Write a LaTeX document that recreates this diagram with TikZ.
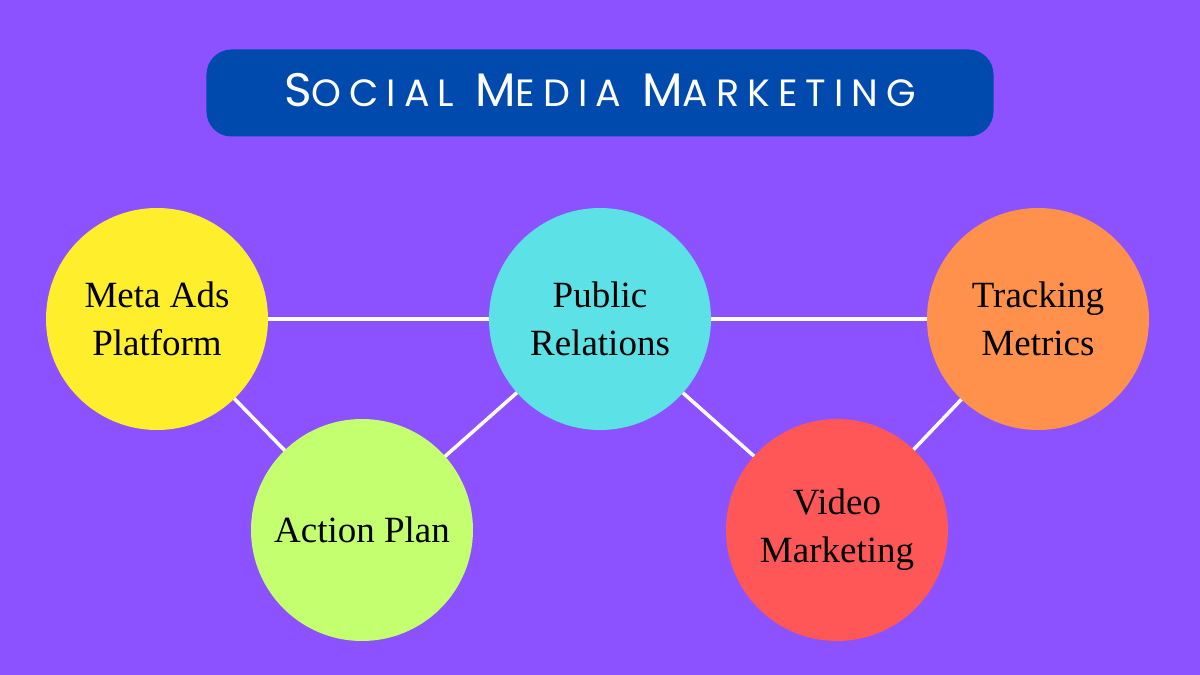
\documentclass[tikz,border=0pt]{standalone}
\usepackage{fontspec}
\setmainfont{Liberation Serif}
\newfontfamily\titlefont[LetterSpace=21]{Poppins}
\definecolor{bgpurple}{HTML}{8C52FF}
\definecolor{titleblue}{HTML}{004AAD}
\definecolor{cyellow}{HTML}{FFEE2B}
\definecolor{cgreen}{HTML}{C3FF6F}
\definecolor{ccyan}{HTML}{5CE1E6}
\definecolor{cred}{HTML}{FF5757}
\definecolor{corange}{HTML}{FF914D}

\begin{document}
\begin{tikzpicture}[x=1bp,y=-1bp,
    topic/.style={circle,minimum size=222bp,inner sep=0pt,align=center,
        font=\fontsize{37bp}{48bp}\selectfont},
    link/.style={draw=white,line width=3.5bp}]
    \fill[bgpurple] (0,0) rectangle (1200,675);
    \useasboundingbox (0,0) rectangle (1200,675);

    \node(title) [fill=titleblue,rounded corners=25bp,minimum width=787bp,minimum height=87bp,
        text=white] at (600,93) {};
    \node(titletext) [text=white] at (600,90) {\titlefont
        \fontsize{47bp}{47bp}\selectfont S\fontsize{38bp}{38bp}\selectfont OCIAL\hspace{3bp}
        \fontsize{47bp}{47bp}\selectfont M\fontsize{38bp}{38bp}\selectfont EDIA\hspace{3bp}
        \fontsize{47bp}{47bp}\selectfont M\fontsize{38bp}{38bp}\selectfont ARKETING};

    \coordinate(meta) at (157,319);
    \coordinate(action) at (362,530);
    \coordinate(pr) at (600,319);
    \coordinate(video) at (837,530);
    \coordinate(track) at (1038,319);

    \draw[link] (meta) -- (pr);
    \draw[link] (pr) -- (track);
    \draw[link] (meta) -- (action);
    \draw[link] (action) -- (pr);
    \draw[link] (pr) -- (video);
    \draw[link] (video) -- (track);

    \node(metaN) [topic,fill=cyellow] at (meta) {Meta Ads\\Platform};
    \node(actionN) [topic,fill=cgreen] at (action) {Action Plan};
    \node(prN) [topic,fill=ccyan] at (pr) {Public\\Relations};
    \node(videoN) [topic,fill=cred] at (video) {Video\\Marketing};
    \node(trackN) [topic,fill=corange] at (track) {Tracking\\Metrics};
\end{tikzpicture}
\end{document}
